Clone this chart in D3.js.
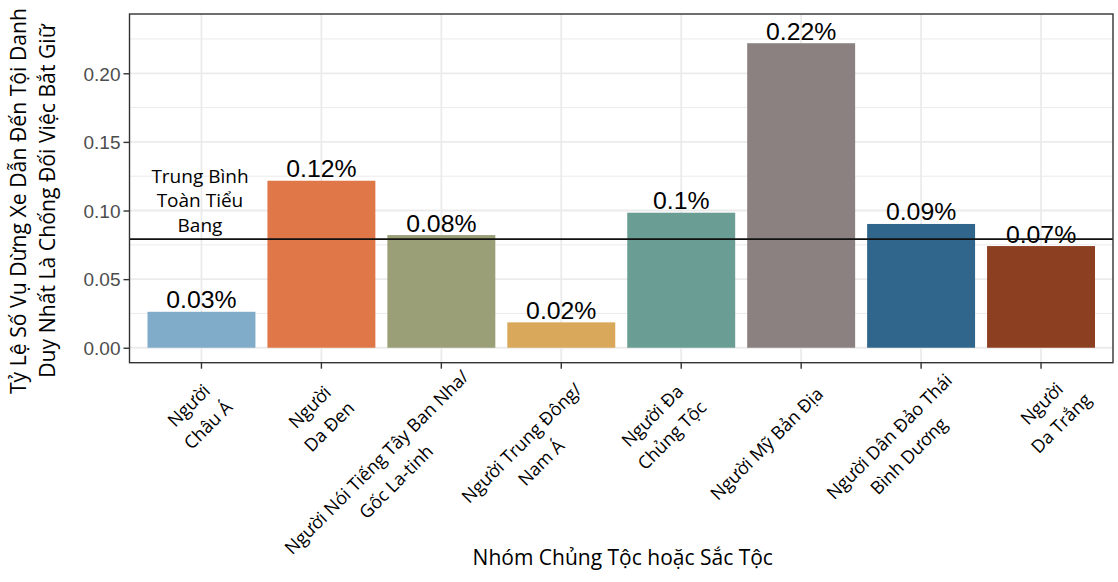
<!DOCTYPE html>
<html>
<head>
<meta charset="utf-8">
<script src="https://cdn.jsdelivr.net/npm/d3@7"></script>
<style>
  html, body { margin: 0; padding: 0; background: #ffffff; }
  svg { display: block; }
</style>
</head>
<body>
<script>
// ---------------- data ----------------
const categories = ["Asian", "Black", "Hispanic/Latino", "Middle Eastern/South Asian",
                    "Multiracial", "Native American", "Pacific Islander", "White"];
const tickLabels = [
  ["Người", "Châu Á"],
  ["Người", "Da Đen"],
  ["Người Nói Tiếng Tây Ban Nha/", "Gốc La-tinh"],
  ["Người Trung Đông/", "Nam Á"],
  ["Người Đa", "Chủng Tộc"],
  ["Người Mỹ Bản Địa"],
  ["Người Dân Đảo Thái", "Bình Dương"],
  ["Người", "Da Trắng"]
];
const rates = [0.0262, 0.1217, 0.0821, 0.0185, 0.0984, 0.2219, 0.0902, 0.0741];
const stateAverage = 0.0792;
const yTicks = [0.00, 0.05, 0.10, 0.15, 0.20];
const yTickLabels = ["0.00", "0.05", "0.10", "0.15", "0.20"];
const yMinorTicks = [0.025, 0.075, 0.125, 0.175, 0.225];
const yTitleLines = ["Tỷ Lệ Số Vụ Dừng Xe Dẫn Đến Tội Danh", "Duy Nhất Là Chống Đối Việc Bắt Giữ"];
const xTitle = "Nhóm Chủng Tộc hoặc Sắc Tộc";
const averageLabel = ["Trung Bình", "Toàn Tiểu", "Bang"];

// ---------------- styles / layout ----------------
const barColors = ["#80abc9", "#e07748", "#9a9f77", "#d9a85b", "#6a9e95", "#8a8180", "#30668b", "#8d3f21"];
// rotated tick label placement: [right end along text, block centre across text]
const tickLabelPlacement = [[-9.5, 35], [-8.7, 37], [9.5, 38.5], [-4.6, 42.6],
                            [-13.8, 31], [-6.5, 33], [9.4, 43.6], [9.4, 43.2]];

const W = 1118, H = 582;
const panel = { left: 129.5, right: 1113, top: 14, bottom: 362.7 };
const sansUI = "'Open Sans', 'Noto Sans', sans-serif";
const sansNum = "'Liberation Sans', Arial, sans-serif";

const svg = d3.select("body").append("svg").attr("width", W).attr("height", H);

const x = d3.scaleBand().domain(categories)
  .range([panel.left, panel.right]).paddingInner(0.1).paddingOuter(0.15);
const y = d3.scaleLinear().domain([-0.0109, 0.2432]).range([panel.bottom, panel.top]);

// panel background
svg.append("rect").attr("x", panel.left).attr("y", panel.top)
  .attr("width", panel.right - panel.left).attr("height", panel.bottom - panel.top)
  .attr("fill", "#ffffff");

// gridlines
const grid = svg.append("g");
grid.selectAll(".minor").data(yMinorTicks).join("line")
  .attr("x1", panel.left).attr("x2", panel.right)
  .attr("y1", d => y(d)).attr("y2", d => y(d))
  .attr("stroke", "#ebebeb").attr("stroke-width", 1);
grid.selectAll(".major").data(yTicks).join("line")
  .attr("x1", panel.left).attr("x2", panel.right)
  .attr("y1", d => y(d)).attr("y2", d => y(d))
  .attr("stroke", "#ebebeb").attr("stroke-width", 1.8);
grid.selectAll(".vmajor").data(categories).join("line")
  .attr("x1", d => x(d) + x.bandwidth() / 2).attr("x2", d => x(d) + x.bandwidth() / 2)
  .attr("y1", panel.top).attr("y2", panel.bottom)
  .attr("stroke", "#ebebeb").attr("stroke-width", 1.8);

// bars
svg.append("g").selectAll("rect").data(categories).join("rect")
  .attr("x", d => x(d)).attr("width", x.bandwidth())
  .attr("y", (d, i) => y(rates[i]))
  .attr("height", (d, i) => y(0) - y(rates[i]))
  .attr("fill", (d, i) => barColors[i]);

// value labels
svg.append("g").selectAll("text").data(categories).join("text")
  .attr("x", d => x(d) + x.bandwidth() / 2)
  .attr("y", (d, i) => y(rates[i]) - 3.5)
  .attr("text-anchor", "middle")
  .attr("font-family", sansNum).attr("font-size", 24.8).attr("fill", "#000")
  .text((d, i) => (+rates[i].toFixed(2)) + "%");

// state average line + annotation
const avgY = y(stateAverage);
const ann = svg.append("g");
ann.selectAll("text").data(averageLabel).join("text")
  .attr("x", x(categories[0]) + x.bandwidth() / 2 - 1.5)
  .attr("y", (d, i) => avgY - 7.3 - (averageLabel.length - 1 - i) * 24.3)
  .attr("text-anchor", "middle")
  .attr("font-family", sansUI).attr("font-size", 19).attr("fill", "#000")
  .text(d => d);
svg.append("line")
  .attr("x1", panel.left).attr("x2", panel.right)
  .attr("y1", avgY).attr("y2", avgY)
  .attr("stroke", "#111111").attr("stroke-width", 1.8);

// panel border
svg.append("rect").attr("x", panel.left).attr("y", panel.top)
  .attr("width", panel.right - panel.left).attr("height", panel.bottom - panel.top)
  .attr("fill", "none").attr("stroke", "#333333").attr("stroke-width", 1.4);

// y axis
const yAxis = d3.axisLeft(y).tickValues(yTicks).tickSize(6).tickPadding(3)
  .tickFormat((d, i) => yTickLabels[i]);
const gy = svg.append("g").attr("transform", `translate(${panel.left},0)`).call(yAxis);
gy.select(".domain").remove();
gy.selectAll(".tick line").attr("stroke", "#333333").attr("stroke-width", 1.4);
gy.selectAll(".tick text").attr("font-family", sansNum).attr("font-size", 19)
  .attr("fill", "#4d4d4d").attr("dy", "0.36em");

// x axis (ticks only; labels drawn rotated below)
const xAxis = d3.axisBottom(x).tickSize(6).tickFormat("");
const gx = svg.append("g").attr("transform", `translate(0,${panel.bottom})`).call(xAxis);
gx.select(".domain").remove();
gx.selectAll(".tick line").attr("stroke", "#333333").attr("stroke-width", 1.4);

// rotated x tick labels
const labelFs = 18, lineH = 27.5;
categories.forEach((c, i) => {
  const cx = x(c) + x.bandwidth() / 2;
  const g = svg.append("g").attr("transform", `translate(${cx},${panel.bottom}) rotate(-45)`);
  const lines = tickLabels[i];
  const texts = lines.map(t => g.append("text")
    .attr("font-family", sansUI).attr("font-size", labelFs).attr("fill", "#000")
    .attr("text-anchor", "middle").text(t));
  const maxW = d3.max(texts, t => t.node().getComputedTextLength());
  const [sEnd, tMid] = tickLabelPlacement[i];
  const sc = sEnd - maxW / 2;
  texts.forEach((t, k) => {
    const tk = tMid + (k - (lines.length - 1) / 2) * lineH;
    t.attr("x", sc).attr("y", tk + 0.35 * labelFs);
  });
});

// axis titles
svg.append("text")
  .attr("x", (panel.left + panel.right) / 2 + 1.5).attr("y", 564.5)
  .attr("text-anchor", "middle")
  .attr("font-family", sansUI).attr("font-size", 21).attr("fill", "#000")
  .text(xTitle);

const yTitleX = [25.5, 55];
yTitleLines.forEach((t, k) => {
  svg.append("text")
    .attr("transform", `translate(${yTitleX[k]},201) rotate(-90)`)
    .attr("text-anchor", "middle")
    .attr("font-family", sansUI).attr("font-size", 21.2).attr("fill", "#000")
    .text(t);
});
</script>
</body>
</html>
